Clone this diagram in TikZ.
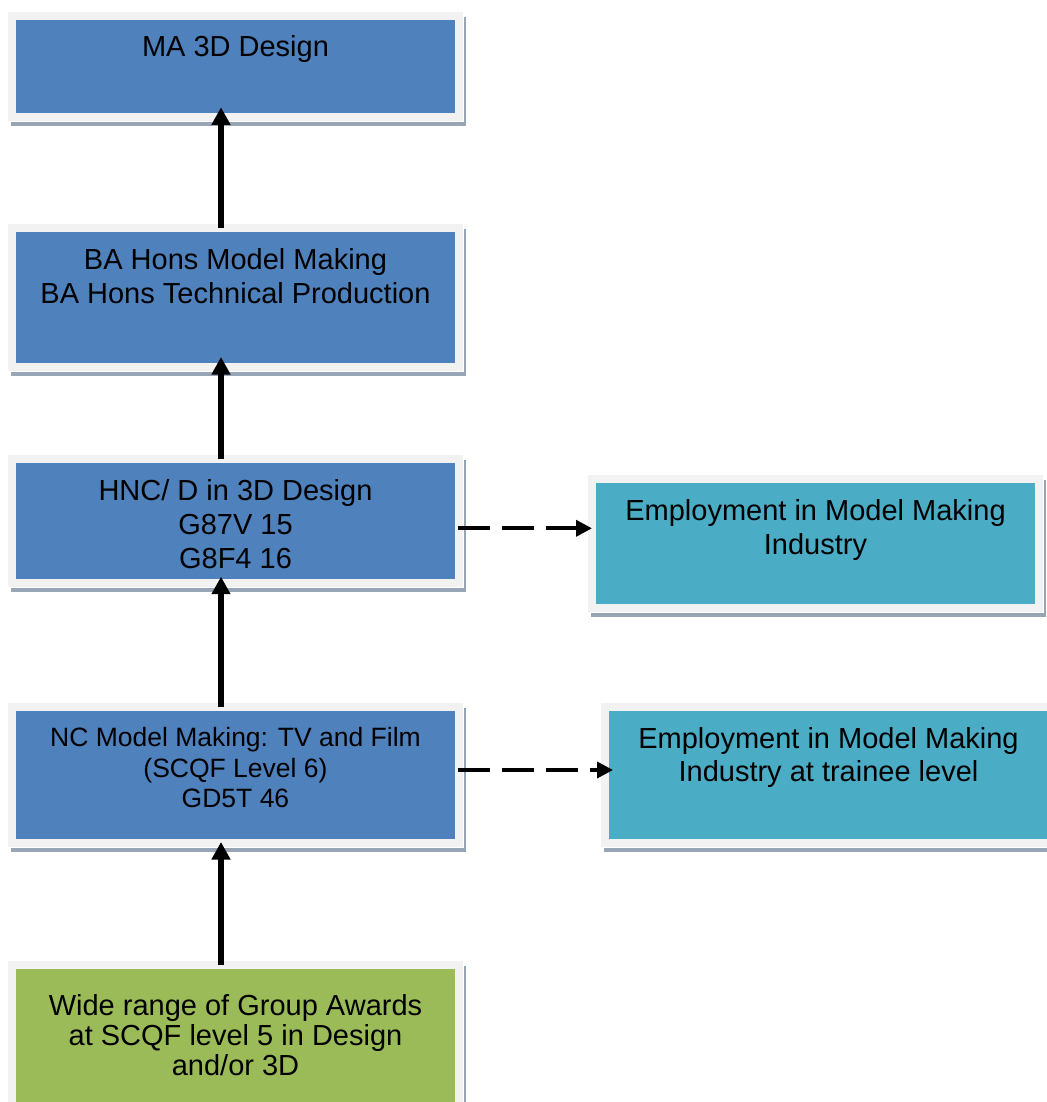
\documentclass[tikz,border=0pt]{standalone}
\usepackage{fontspec}
\setmainfont{Liberation Sans}
\usetikzlibrary{arrows.meta,backgrounds}
\definecolor{blueA}{HTML}{4F81BD}
\definecolor{tealA}{HTML}{4BACC6}
\definecolor{greenA}{HTML}{9BBB59}
\definecolor{frameC}{HTML}{F2F2F2}
\definecolor{shadowC}{HTML}{97A5B5}
% width, height, first baseline, text
\newcommand\bxt[4]{\parbox[c][#2][t]{#1}{\centering\rule{0pt}{#3}#4}}
\tikzset{
  box/.style={draw=frameC, line width=8pt, inner sep=0pt, outer sep=0pt, text=black},
  bigfont/.style={font=\fontsize{29pt}{34pt}\selectfont},
  upflow/.style={line width=6pt, -{Triangle[length=17.5pt,width=18pt]}},
  sideflow/.style={line width=3.7pt, dash pattern=on 31.7pt off 12.3pt, -{Triangle[length=16pt,width=16pt]}},
}
\begin{document}
\begin{tikzpicture}[x=1pt,y=-1pt]
\useasboundingbox (0,0) rectangle (1046,1102);
% boxes
\node[box, fill=blueA, bigfont] (ma) at (235.5,66.5)
  {\bxt{447pt}{101pt}{41pt}{MA 3D Design}};
\node[box, fill=blueA, bigfont] (ba) at (235.5,297.5)
  {\bxt{447pt}{139pt}{41.5pt}{BA Hons Model Making\\BA Hons Technical Production}};
\node[box, fill=blueA, bigfont] (hnc) at (235.5,521)
  {\bxt{447pt}{124pt}{41.5pt}{HNC/ D in 3D Design\\G87V 15\\G8F4 16}};
\node[box, fill=blueA, font=\fontsize{26.5pt}{30.5pt}\selectfont] (nc) at (235.5,775)
  {\bxt{447pt}{136pt}{39.5pt}{NC Model Making: TV and Film\\(SCQF Level 6)\\GD5T 46}};
\node[box, fill=greenA, font=\fontsize{29pt}{30pt}\selectfont] (grn) at (235.5,1035.5)
  {\bxt{447pt}{141pt}{50pt}{Wide range of Group Awards\\at SCQF level 5 in Design\\and/or 3D}};
\node[box, fill=tealA, font=\fontsize{29pt}{34pt}\selectfont] (emp1) at (815.5,543.5)
  {\bxt{447pt}{129pt}{41.5pt}{Employment in Model Making\\Industry}};
\node[box, fill=tealA, font=\fontsize{29pt}{33.4pt}\selectfont] (emp2) at (828.5,775)
  {\bxt{447pt}{136pt}{41.3pt}{Employment in Model Making\\Industry at trainee level}};
% shadows
\begin{scope}[on background layer]
\fill[white] (0,0) rectangle (1046,1102);
\foreach \n in {ma,ba,hnc,nc,grn,emp1,emp2}{
  \draw[draw=shadowC, fill=shadowC, line width=8pt]
    ([shift={(3,5)}]\n.north west) rectangle ([shift={(3,5)}]\n.south east);
  \draw[white, line width=10.8pt] (\n.north west) rectangle (\n.south east);
}
\end{scope}
% connectors
\coordinate (colx) at (221,0);
\coordinate (dy1) at (0,528.3);
\coordinate (dy2) at (0,770);
\draw[upflow, shorten >=-9.7pt] (ba.north -| colx) -- (ma.south -| colx);
\draw[upflow, shorten >=-10pt] (hnc.north -| colx) -- (ba.south -| colx);
\draw[upflow, shorten >=-6.3pt] (nc.north -| colx) -- (hnc.south -| colx);
\draw[upflow, shorten >=-1pt] (grn.north -| colx) -- (nc.south -| colx);
\draw[sideflow, shorten <=-1pt] (hnc.east |- dy1) -- (emp1.west |- dy1);
\draw[sideflow, shorten <=-1pt, shorten >=-8pt] (nc.east |- dy2) -- (emp2.west |- dy2);
\end{tikzpicture}
\end{document}
